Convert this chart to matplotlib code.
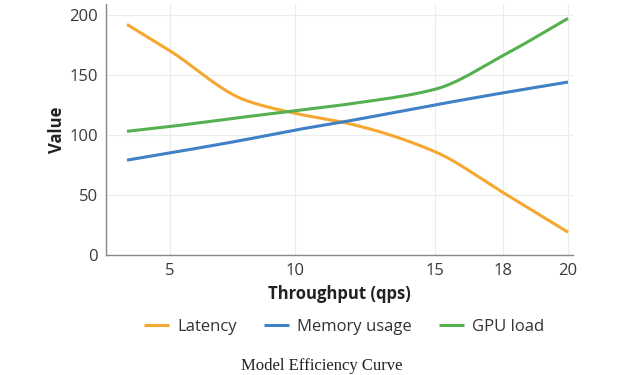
import numpy as np
import matplotlib
matplotlib.use("Agg")
import matplotlib.pyplot as plt

# data
throughput = [3, 5, 8, 10, 12, 15, 18, 20]
latency = [192, 170, 129, 118, 109, 86, 52, 19]
memory_usage = [79, 85, 96, 104, 112, 125, 135, 144]
gpu_load = [103, 107, 115, 120, 126, 138, 166, 197]
x_ticks = [5, 10, 15, 18, 20]

series = [
    ("Latency", latency, "#f5a830"),
    ("Memory usage", memory_usage, "#3f80c6"),
    ("GPU load", gpu_load, "#55b04f"),
]

# the source axis is not evenly spaced; piecewise-linear scale mimics it
knot_val = np.array([0.0, 3, 5, 10, 15, 18, 20, 25])
knot_pos = np.array([62.0, 127, 170, 295, 435, 503, 568, 730])


def fwd(v):
    return np.interp(v, knot_val, knot_pos)


def inv(p):
    return np.interp(p, knot_pos, knot_val)


def monotone(x, y, n=40):
    # Fritsch-Carlson monotone cubic, only for drawing the curve
    x = np.asarray(x, float)
    y = np.asarray(y, float)
    h = np.diff(x)
    d = np.diff(y) / h
    m = np.zeros_like(y)
    m[0], m[-1] = d[0], d[-1]
    for i in range(1, len(y) - 1):
        if d[i - 1] * d[i] > 0:
            w1 = 2 * h[i] + h[i - 1]
            w2 = h[i] + 2 * h[i - 1]
            m[i] = (w1 + w2) / (w1 / d[i - 1] + w2 / d[i])
    xs, ys = [], []
    for i in range(len(x) - 1):
        t = np.linspace(0, 1, n, endpoint=(i == len(x) - 2))
        h00 = 2 * t**3 - 3 * t**2 + 1
        h10 = t**3 - 2 * t**2 + t
        h01 = -2 * t**3 + 3 * t**2
        h11 = t**3 - t**2
        xs.append(x[i] + t * h[i])
        ys.append(h00 * y[i] + h10 * h[i] * m[i] + h01 * y[i + 1] + h11 * h[i] * m[i + 1])
    return np.concatenate(xs), np.concatenate(ys)


plt.rcParams["font.family"] = ["Open Sans", "DejaVu Sans"]

fig = plt.figure(figsize=(6.43, 3.75), dpi=100)
ax = fig.add_axes([106 / 643, 120 / 375, 467 / 643, 251 / 375])
ax.set_xscale("function", functions=(fwd, inv))

for name, vals, color in series:
    # smooth in screen space, like the original renderer
    px, ys = monotone(fwd(np.array(throughput, float)), vals)
    ax.plot(inv(px), ys, color=color, lw=2.2, label=name, solid_capstyle="butt")

ax.set_xlim(inv(106), inv(573))
ax.set_ylim(0, 209)
ax.set_xticks(x_ticks)
ax.set_xticklabels([str(t) for t in x_ticks])
ax.set_yticks([0, 50, 100, 150, 200])

ax.tick_params(length=0, labelsize=12, colors="#3a3a3a")
ax.tick_params(axis="x", pad=6)
ax.tick_params(axis="y", pad=6)
ax.grid(color="#ececec", lw=0.8)
ax.set_axisbelow(True)
for s in ["top", "right"]:
    ax.spines[s].set_visible(False)
for s in ["left", "bottom"]:
    ax.spines[s].set_color("#888888")
    ax.spines[s].set_linewidth(1.0)

ax.set_xlabel("Throughput (qps)", fontsize=12, fontweight="bold", color="#222222", labelpad=4)
ax.set_ylabel("Value", fontsize=12, fontweight="bold", color="#222222", labelpad=2)

ax.legend(loc="center", bbox_to_anchor=(0.51, -0.285), ncol=3, frameon=False,
          fontsize=12, handlelength=1.5, handletextpad=0.5, columnspacing=1.6,
          labelcolor="#333333")

fig.text(0.5, 1 - 366 / 375, "Model Efficiency Curve", ha="center", va="center",
         family="Liberation Serif", fontsize=12, color="#222222")

fig.savefig("out.png", dpi=100)
